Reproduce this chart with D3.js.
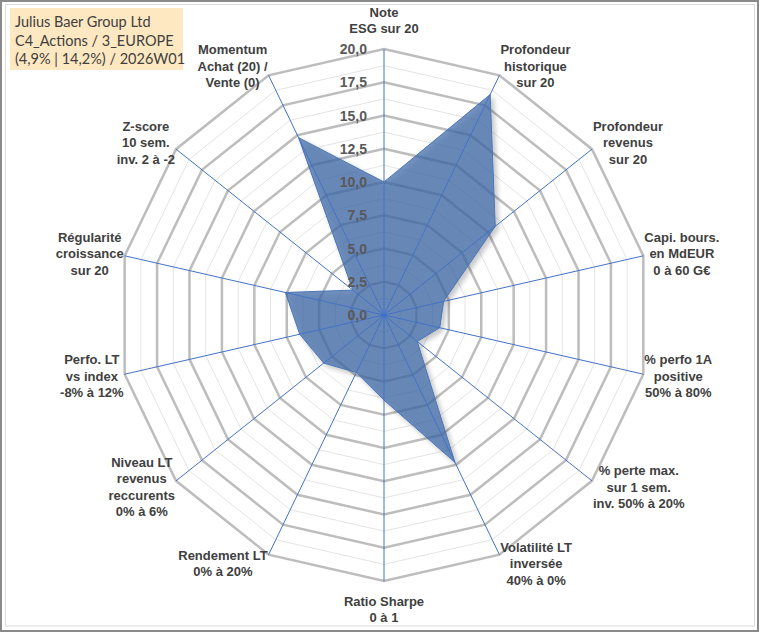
<!DOCTYPE html>
<html>
<head>
<meta charset="utf-8">
<script src="https://cdn.jsdelivr.net/npm/d3@7"></script>
<style>
  body { margin: 0; background: #fff; }
  svg { display: block; }
</style>
</head>
<body>
<div id="chart"></div>
<script>
// Axis labels, clockwise from the top
var axisLabels = [
    ["Note", "ESG sur 20"],
    ["Profondeur", "historique", "sur 20"],
    ["Profondeur", "revenus", "sur 20"],
    ["Capi. bours.", "en MdEUR", "0 à 60 G€"],
    ["% perfo 1A", "positive", "50% à 80%"],
    ["% perte max.", "sur 1 sem.", "inv. 50% à 20%"],
    ["Volatilité LT", "inversée", "40% à 0%"],
    ["Ratio Sharpe", "0 à 1"],
    ["Rendement LT", "0% à 20%"],
    ["Niveau LT", "revenus", "reccurents", "0% à 6%"],
    ["Perfo. LT", "vs index", "-8% à 12%"],
    ["Régularité", "croissance", "sur 20"],
    ["Z-score", "10 sem.", "inv. 2 à -2"],
    ["Momentum", "Achat (20) /", "Vente (0)"]
];

// Scores (0..20)
var scores = [10.0, 18.4, 10.7, 4.6, 4.3, 3.2, 12.3, 6.4, 4.8, 5.8, 6.5, 7.6, 3.0, 14.8];

var majorTicks = [0, 2.5, 5, 7.5, 10, 12.5, 15, 17.5, 20];
var minorTicks = [1.25, 3.75, 6.25, 8.75, 11.25, 13.75, 16.25, 18.75];

var titleLines = ["Julius Baer Group Ltd", "C4_Actions / 3_EUROPE", "(4,9% | 14,2%) / 2026W01"];

var width = 760, height = 633;
var cx = 384, cy = 315, R = 266;
var n = axisLabels.length;

var svg = d3.select("#chart").append("svg").attr("width", width).attr("height", height);

// Chart frame
svg.append("rect").attr("x", 1).attr("y", 1).attr("width", width - 3).attr("height", height - 3)
    .attr("fill", "#fff").attr("stroke", "#8a8a8a").attr("stroke-width", 2);
svg.append("rect").attr("x", 5.5).attr("y", 4.5).attr("width", 749).attr("height", 621.5)
    .attr("fill", "none").attr("stroke", "#dcdcdc").attr("stroke-width", 1);

var defs = svg.append("defs");
var shadow = defs.append("filter").attr("id", "shadow").attr("x", "-10%").attr("y", "-10%")
    .attr("width", "130%").attr("height", "130%");
shadow.append("feGaussianBlur").attr("in", "SourceAlpha").attr("stdDeviation", 2.5);
shadow.append("feOffset").attr("dx", 3).attr("dy", 3).attr("result", "blur");
shadow.append("feComponentTransfer").append("feFuncA").attr("type", "linear").attr("slope", 0.3);
var merge = shadow.append("feMerge");
merge.append("feMergeNode");
merge.append("feMergeNode").attr("in", "SourceGraphic");

var r = d3.scaleLinear().domain([0, 20]).range([0, R]);
var angle = d3.scaleLinear().domain([0, n]).range([0, 2 * Math.PI]);

var radial = d3.lineRadial()
    .angle(function(d, i) { return angle(i); })
    .radius(function(d) { return r(d); })
    .curve(d3.curveLinearClosed);

var g = svg.append("g").attr("transform", "translate(" + cx + "," + cy + ")");

function ring(v) { return d3.range(n).map(function() { return v; }); }

// Grid rings
g.selectAll(".minor").data(minorTicks).enter().append("path")
    .attr("class", "minor")
    .attr("d", function(v) { return radial(ring(v)); })
    .attr("fill", "none").attr("stroke", "#e4e4e4").attr("stroke-width", 1);

g.selectAll(".major").data(majorTicks.filter(function(v) { return v > 0; })).enter().append("path")
    .attr("class", "major")
    .attr("d", function(v) { return radial(ring(v)); })
    .attr("fill", "none").attr("stroke", "#bdbdbd").attr("stroke-width", 2.5);

// Data area
g.append("path")
    .datum(scores)
    .attr("d", radial)
    .attr("fill", "#3d6aa8").attr("fill-opacity", 0.72)
    .attr("stroke", "#4a76b4").attr("stroke-width", 1)
    .attr("filter", "url(#shadow)");

// Spokes
g.selectAll(".spoke").data(d3.range(n)).enter().append("line")
    .attr("class", "spoke")
    .attr("x1", 0).attr("y1", 0)
    .attr("x2", function(i) { return r(20) * Math.sin(angle(i)); })
    .attr("y2", function(i) { return -r(20) * Math.cos(angle(i)); })
    .attr("stroke", "#4472c4").attr("stroke-width", 1);

g.append("circle").attr("r", 2.5).attr("fill", "#4472c4");

// Scale labels along the top spoke
var fmt = d3.format(".1f");
g.selectAll(".tick").data(majorTicks).enter().append("text")
    .attr("class", "tick")
    .attr("x", -17)
    .attr("y", function(v) { return -r(v); })
    .attr("dy", "0.36em")
    .attr("text-anchor", "end")
    .attr("font-family", "Liberation Sans, Arial, sans-serif")
    .attr("font-weight", "bold")
    .attr("font-size", 14)
    .attr("fill", "#595959")
    .text(function(v) { return fmt(v).replace(".", ","); });

// Axis labels
var lineH = 16.5;
axisLabels.forEach(function(lines, i) {
    var a = angle(i), s = Math.sin(a), c = Math.cos(a);
    var vx = cx + r(20) * s, vy = cy - r(20) * c;
    var t = svg.append("text")
        .attr("text-anchor", "middle")
        .attr("font-family", "Liberation Sans, Arial, sans-serif")
        .attr("font-weight", "bold")
        .attr("font-size", 13)
        .attr("fill", "#404040");
    var spans = t.selectAll("tspan").data(lines).enter().append("tspan").text(function(d) { return d; });
    var w = 0;
    spans.each(function() { w = Math.max(w, this.getComputedTextLength()); });
    var h = lines.length * lineH;
    var mx, my;
    if (Math.abs(s) < 0.01) {
        mx = vx;
        my = vy - c * (h / 2 + 12);
    } else {
        mx = vx + (s > 0 ? 1 : -1) * (w / 2 + 1);
        my = vy - 10 * c;
    }
    spans.attr("x", mx)
        .attr("y", function(d, k) { return my - h / 2 + lineH * (k + 0.5); })
        .attr("dy", "0.35em");
});

// Title box
svg.append("rect").attr("x", 10).attr("y", 8).attr("width", 173).attr("height", 62)
    .attr("fill", "#fde8c1");
svg.append("g").selectAll("text").data(titleLines).enter().append("text")
    .attr("x", 15)
    .attr("y", function(d, k) { return 22 + k * 18.5; })
    .attr("dy", "0.35em")
    .attr("font-family", "Lato, Carlito, sans-serif")
    .attr("font-size", 14.5)
    .attr("fill", "#404040")
    .text(function(d) { return d; });
</script>
</body>
</html>
